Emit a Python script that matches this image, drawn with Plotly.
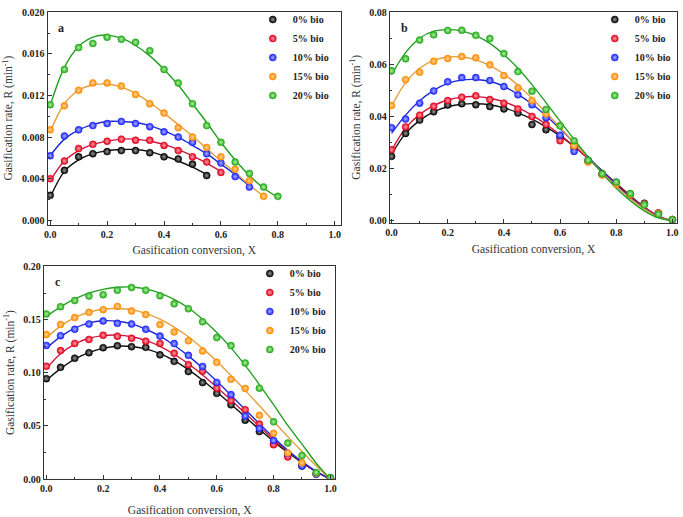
import plotly.graph_objects as go

W, H = 683, 517

# ---------------- data ----------------
SERIES = ["0% bio", "5% bio", "10% bio", "15% bio", "20% bio"]

X21 = [0.0, 0.05, 0.1, 0.15, 0.2, 0.25, 0.3, 0.35, 0.4, 0.45, 0.5,
       0.55, 0.6, 0.65, 0.7, 0.75, 0.8, 0.85, 0.9, 0.95, 1.0]

# panel a: measured points (x = X21[:n])
A_PTS = [
    [0.0024, 0.0048, 0.0061, 0.0064, 0.0066, 0.0067, 0.0067, 0.0065, 0.0061, 0.0059, 0.0054, 0.0043],
    [0.0040, 0.0057, 0.0069, 0.0073, 0.0076, 0.0078, 0.0077, 0.0077, 0.0072, 0.0067, 0.0061, 0.0056, 0.0046],
    [0.0062, 0.0081, 0.0087, 0.0091, 0.0093, 0.0095, 0.0093, 0.0090, 0.0085, 0.0080, 0.0075, 0.0064, 0.0055,
     0.0042, 0.0032],
    [0.0087, 0.0110, 0.0125, 0.0132, 0.0132, 0.0129, 0.0121, 0.0112, 0.0103, 0.0089, 0.0080, 0.0070, 0.0061,
     0.0049, 0.0038, 0.0023],
    [0.0111, 0.0145, 0.0166, 0.0170, 0.0176, 0.0174, 0.0171, 0.0163, 0.0145, 0.0132, 0.0112, 0.0091, 0.0075,
     0.0056, 0.0045, 0.0032, 0.0023],
]
# panel a: fitted curves
A_FIT = [
    [0.0022, 0.0047, 0.0058, 0.0064, 0.0067, 0.0068, 0.0068, 0.0066, 0.0062, 0.0057, 0.0051, 0.0044],
    [0.0038, 0.0057, 0.0067, 0.0073, 0.0076, 0.0078, 0.0078, 0.0076, 0.0073, 0.0068, 0.0062, 0.0055, 0.0047],
    [0.0062, 0.0078, 0.0087, 0.0092, 0.0095, 0.0095, 0.0094, 0.0091, 0.0086, 0.0080, 0.0072, 0.0064, 0.0054,
     0.0044, 0.0033],
    [0.0085, 0.0112, 0.0125, 0.0130, 0.0131, 0.0128, 0.0122, 0.0113, 0.0103, 0.0092, 0.0081, 0.0069, 0.0057,
     0.0046, 0.0034, 0.0023],
    [0.0110, 0.0147, 0.0167, 0.0176, 0.0178, 0.0175, 0.0168, 0.0158, 0.0145, 0.0130, 0.0112, 0.0094, 0.0075,
     0.0058, 0.0043, 0.0031, 0.0022],
]

# panel b
B_PTS = [
    [0.0247, 0.0335, 0.0386, 0.0418, 0.0444, 0.0449, 0.0445, 0.0438, 0.0429, 0.0413, 0.0369, 0.0349, 0.0320,
     0.0280, 0.0228, 0.0180, 0.0145, 0.0100, 0.0067, 0.0029, 0.0004],
    [0.0272, 0.0360, 0.0405, 0.0439, 0.0461, 0.0474, 0.0479, 0.0465, 0.0451, 0.0429, 0.0400, 0.0370, 0.0307,
     0.0285, 0.0230, 0.0178, 0.0143, 0.0102, 0.0065, 0.0030, 0.0004],
    [0.0357, 0.0390, 0.0451, 0.0498, 0.0533, 0.0549, 0.0549, 0.0538, 0.0515, 0.0483, 0.0445, 0.0395, 0.0328,
     0.0266, 0.0232, 0.0178, 0.0148, 0.0102, 0.0064, 0.0027, 0.0004],
    [0.0442, 0.0541, 0.0570, 0.0612, 0.0622, 0.0630, 0.0625, 0.0598, 0.0557, 0.0510, 0.0461, 0.0410, 0.0365,
     0.0288, 0.0225, 0.0175, 0.0140, 0.0100, 0.0063, 0.0028, 0.0004],
    [0.0575, 0.0621, 0.0693, 0.0713, 0.0730, 0.0731, 0.0711, 0.0699, 0.0641, 0.0572, 0.0497, 0.0427, 0.0364,
     0.0307, 0.0232, 0.0180, 0.0148, 0.0104, 0.0061, 0.0025, 0.0004],
]
B_FIT = [
    [0.0255, 0.0335, 0.0385, 0.0418, 0.0437, 0.0447, 0.0449, 0.0445, 0.0433, 0.0414, 0.0390, 0.0360, 0.0325,
     0.0285, 0.0240, 0.0192, 0.0143, 0.0096, 0.0053, 0.0018, 0.0],
    [0.0270, 0.0355, 0.0408, 0.0442, 0.0463, 0.0474, 0.0476, 0.0470, 0.0456, 0.0434, 0.0405, 0.0370, 0.0330,
     0.0286, 0.0238, 0.0189, 0.0140, 0.0093, 0.0052, 0.0018, 0.0],
    [0.0335, 0.0405, 0.0460, 0.0500, 0.0527, 0.0540, 0.0542, 0.0535, 0.0515, 0.0485, 0.0448, 0.0403, 0.0353,
     0.0300, 0.0245, 0.0190, 0.0137, 0.0088, 0.0047, 0.0015, 0.0],
    [0.0440, 0.0530, 0.0585, 0.0615, 0.0628, 0.0628, 0.0617, 0.0595, 0.0563, 0.0520, 0.0470, 0.0415, 0.0358,
     0.0300, 0.0242, 0.0185, 0.0132, 0.0085, 0.0045, 0.0014, 0.0],
    [0.0560, 0.0645, 0.0700, 0.0727, 0.0733, 0.0728, 0.0710, 0.0680, 0.0637, 0.0585, 0.0522, 0.0453, 0.0382,
     0.0312, 0.0245, 0.0182, 0.0125, 0.0077, 0.0038, 0.0011, 0.0],
]

# panel c
C_PTS = [
    [0.0945, 0.1052, 0.1138, 0.1190, 0.1237, 0.1255, 0.1246, 0.1240, 0.1169, 0.1108, 0.1012, 0.0908, 0.0807,
     0.0699, 0.0555, 0.0447, 0.0330, 0.0230, 0.0124, 0.0050, 0.0010],
    [0.1062, 0.1209, 0.1277, 0.1314, 0.1354, 0.1345, 0.1326, 0.1298, 0.1277, 0.1185, 0.1077, 0.1016, 0.0856,
     0.0740, 0.0653, 0.0518, 0.0324, 0.0209, 0.0135, 0.0050, 0.0010],
    [0.1258, 0.1350, 0.1410, 0.1460, 0.1488, 0.1466, 0.1460, 0.1410, 0.1346, 0.1275, 0.1165, 0.1060, 0.0910,
     0.0795, 0.0594, 0.0477, 0.0364, 0.0240, 0.0124, 0.0047, 0.0010],
    [0.1360, 0.1455, 0.1520, 0.1569, 0.1594, 0.1625, 0.1582, 0.1548, 0.1455, 0.1385, 0.1302, 0.1206, 0.1100,
     0.0939, 0.0853, 0.0600, 0.0431, 0.0246, 0.0154, 0.0055, 0.0010],
    [0.1554, 0.1622, 0.1680, 0.1723, 0.1735, 0.1778, 0.1803, 0.1778, 0.1726, 0.1649, 0.1603, 0.1480, 0.1332,
     0.1256, 0.1093, 0.0856, 0.0539, 0.0339, 0.0222, 0.0062, 0.0015],
]
C_FIT = [
    [0.0930, 0.1040, 0.1130, 0.1190, 0.1230, 0.1250, 0.1248, 0.1225, 0.1180, 0.1115, 0.1030, 0.0930, 0.0820,
     0.0705, 0.0585, 0.0468, 0.0355, 0.0250, 0.0155, 0.0070, 0.0],
    [0.1040, 0.1180, 0.1270, 0.1325, 0.1350, 0.1355, 0.1340, 0.1305, 0.1250, 0.1175, 0.1085, 0.0980, 0.0865,
     0.0745, 0.0620, 0.0495, 0.0375, 0.0262, 0.0160, 0.0072, 0.0],
    [0.1230, 0.1340, 0.1420, 0.1470, 0.1490, 0.1485, 0.1460, 0.1410, 0.1345, 0.1260, 0.1160, 0.1045, 0.0920,
     0.0790, 0.0655, 0.0522, 0.0392, 0.0272, 0.0165, 0.0072, 0.0],
    [0.1330, 0.1440, 0.1520, 0.1570, 0.1600, 0.1605, 0.1595, 0.1560, 0.1505, 0.1430, 0.1340, 0.1230, 0.1110,
     0.0975, 0.0835, 0.0690, 0.0545, 0.0400, 0.0260, 0.0125, 0.0],
    [0.1530, 0.1620, 0.1695, 0.1750, 0.1785, 0.1805, 0.1808, 0.1790, 0.1750, 0.1690, 0.1610, 0.1505, 0.1380,
     0.1235, 0.1070, 0.0890, 0.0700, 0.0505, 0.0330, 0.0150, 0.0],
]

# ---------------- styles ----------------
MARK_MAIN = ["#000000", "#e0001a", "#1a22ff", "#ff8a00", "#22a818"]
MARK_HI = ["#9a9a9a", "#ffa0a8", "#a8b0ff", "#ffd49c", "#b0f0a0"]
LINE_COL = ["#111111", "#d0143c", "#1f2bd8", "#e3a03c", "#22a022"]

FONT = "Liberation Serif"

panels = [
    dict(key="a", pts=A_PTS, fit=A_FIT, xd=(43, 339), yd=(6.7, 224),
         xr=[-0.009, 1.022], yr=[-0.00042, 0.02006], dt=0.004, fmt=".3f", leg=(250, 0), xst=7),
    dict(key="b", pts=B_PTS, fit=B_FIT, xd=(388.3, 678.3), yd=(6.7, 222.3),
         xr=[-0.006, 1.0177], yr=[-0.00087, 0.08023], dt=0.02, fmt=".2f", leg=(595, 0), xst=7),
    dict(key="c", pts=C_PTS, fit=C_FIT, xd=(39.3, 333.3), yd=(266, 483.7),
         xr=[-0.0084, 1.0175], yr=[-0.0002, 0.20065], dt=0.05, fmt=".2f", leg=(247, 259), xst=12),
]

fig = go.Figure()
layout = dict(
    width=W, height=H, margin=dict(l=0, r=0, t=0, b=0),
    paper_bgcolor="white", plot_bgcolor="white",
    font=dict(family=FONT, color="#222"),
    annotations=[],
)

for i, p in enumerate(panels):
    n = i + 1
    xa = "x" if n == 1 else f"x{n}"
    ya = "y" if n == 1 else f"y{n}"
    leg = "legend" if n == 1 else f"legend{n}"
    for s in range(5):
        fig.add_trace(go.Scatter(
            x=X21[:len(p["fit"][s])], y=p["fit"][s], mode="lines",
            line=dict(color=LINE_COL[s], width=1.4, shape="spline", smoothing=1.0),
            xaxis=xa, yaxis=ya, showlegend=False, hoverinfo="skip"))
    for s in range(5):
        npts = len(p["pts"][s])
        fig.add_trace(go.Scatter(
            x=X21[:npts], y=p["pts"][s], mode="markers", name=SERIES[s],
            marker=dict(size=7, color=MARK_MAIN[s],
                        gradient=dict(type="radial", color=MARK_HI[s]),
                        line=dict(width=0.5, color=MARK_MAIN[s])),
            xaxis=xa, yaxis=ya, legend=leg))

    axcommon = dict(showline=True, mirror=True, linecolor="#333", linewidth=1.3,
                    ticks="inside", ticklen=4, tickwidth=1, tickcolor="#333",
                    showgrid=False, zeroline=False,
                    tickfont=dict(family=FONT, size=10, color="#222", weight="bold"))
    xkey = "xaxis" if n == 1 else f"xaxis{n}"
    ykey = "yaxis" if n == 1 else f"yaxis{n}"
    layout[xkey] = dict(
        axcommon, domain=[p["xd"][0] / W, p["xd"][1] / W], range=p["xr"],
        anchor=ya, tickmode="linear", tick0=0, dtick=0.2, tickformat=".1f",
        minor=dict(ticks="inside", ticklen=2, dtick=0.1, tick0=0, tickcolor="#333"),
        title=dict(text="Gasification conversion, X", standoff=p["xst"],
                   font=dict(family=FONT, size=11.5, color="#333")))
    layout[ykey] = dict(
        axcommon, domain=[1 - p["yd"][1] / H, 1 - p["yd"][0] / H], range=p["yr"],
        anchor=xa, tickmode="linear", tick0=0, dtick=p["dt"], tickformat=p["fmt"],
        minor=dict(ticks="inside", ticklen=2, dtick=p["dt"] / 2, tick0=0, tickcolor="#333"),
        title=dict(text="Gasification rate, R (min<sup>-1</sup>)", standoff=6,
                   font=dict(family=FONT, size=11.5, color="#333")))
    layout[leg] = dict(
        x=p["leg"][0] / W, y=1 - p["leg"][1] / H, xanchor="left", yanchor="top",
        bgcolor="rgba(0,0,0,0)", borderwidth=0,
        font=dict(family=FONT, size=10, color="#222", weight="bold"))
    layout["annotations"].append(dict(
        text=p["key"], xref=f"{xa} domain", yref=f"{ya} domain", x=0.03, y=0.965,
        xanchor="left", yanchor="top", showarrow=False,
        font=dict(family=FONT, size=12, color="#222", weight="bold")))

fig.update_layout(**layout)
fig.write_html("out.html")
